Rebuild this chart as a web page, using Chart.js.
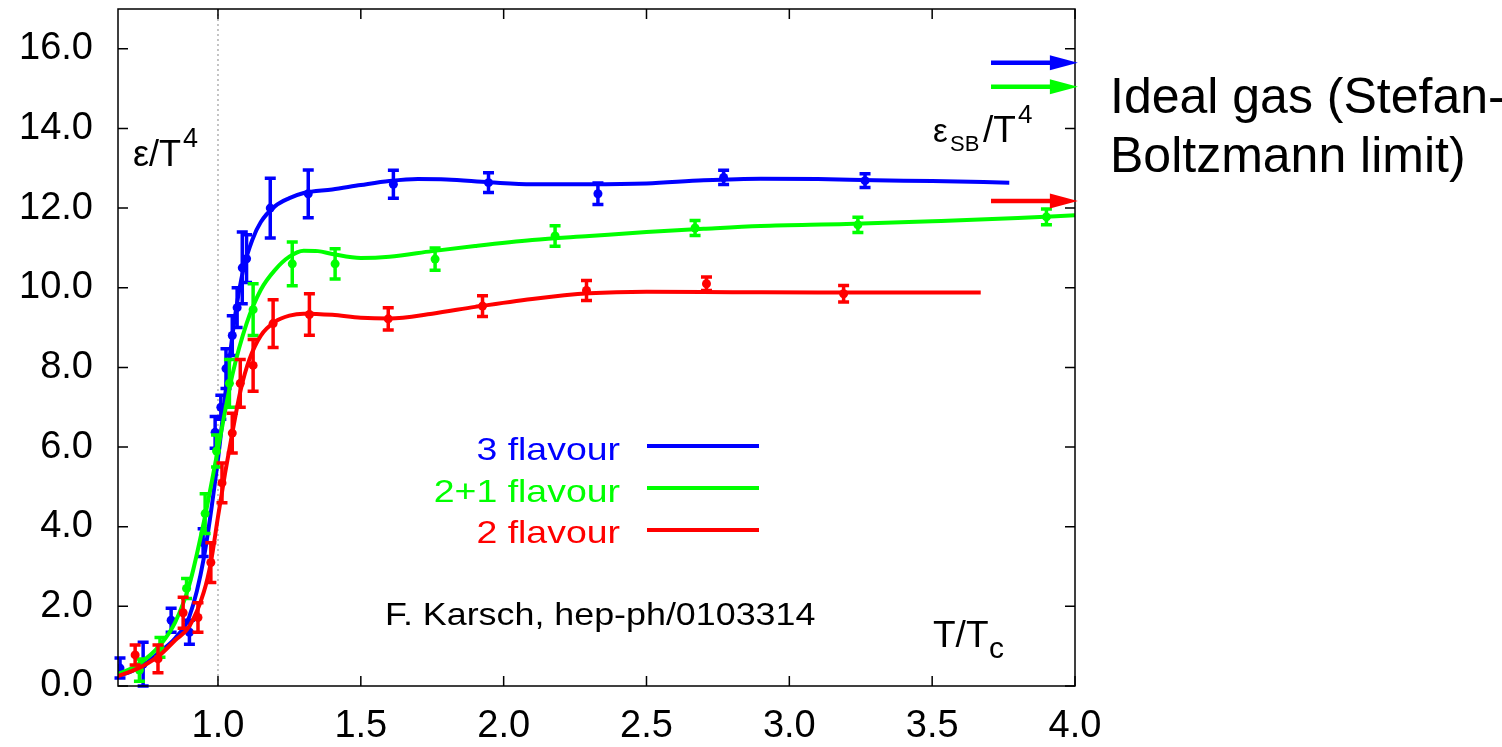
<!DOCTYPE html>
<html><head><meta charset="utf-8">
<script src="https://cdn.jsdelivr.net/npm/chart.js@4"></script>
<style>html,body{margin:0;padding:0;background:#fff}#wrap{width:1502px;height:747px;position:relative}</style>
</head><body><div id="wrap"><canvas id="c"></canvas></div>
<script>
// ---- data ----
const xTicks = [1.0, 1.5, 2.0, 2.5, 3.0, 3.5, 4.0];
const yTicks = [0, 2, 4, 6, 8, 10, 12, 14, 16];

// 3 flavour (blue) lattice points
const blueX   = [0.657, 0.738, 0.836, 0.90, 0.948, 0.99, 1.01, 1.028, 1.05, 1.067, 1.085, 1.10, 1.183, 1.316, 1.614, 1.947, 2.33, 2.77, 3.265];
const blueY   = [0.45, 0.55, 1.65, 1.35, 3.6, 6.37, 7.0, 7.97, 8.8, 9.5, 10.5, 10.73, 12.0, 12.36, 12.6, 12.64, 12.36, 12.77, 12.69];
const blueErr = [0.25, 0.55, 0.3, 0.3, 0.35, 0.4, 0.3, 0.5, 0.5, 0.5, 0.9, 0.6, 0.75, 0.6, 0.35, 0.25, 0.27, 0.18, 0.17];
// 2+1 flavour (green)
const greenX   = [0.725, 0.797, 0.89, 0.955, 0.995, 1.04, 1.123, 1.26, 1.41, 1.76, 2.18, 2.67, 3.24, 3.9];
const greenY   = [0.4, 0.97, 2.45, 4.33, 5.9, 7.6, 9.45, 10.6, 10.6, 10.72, 11.3, 11.5, 11.58, 11.78];
const greenErr = [0.28, 0.25, 0.25, 0.5, 0.4, 0.6, 0.65, 0.55, 0.38, 0.28, 0.26, 0.19, 0.19, 0.2];
// 2 flavour (red)
const redX   = [0.71, 0.79, 0.878, 0.93, 0.975, 1.014, 1.05, 1.078, 1.123, 1.193, 1.32, 1.596, 1.926, 2.29, 2.71, 3.19];
const redY   = [0.78, 0.68, 1.84, 1.72, 3.1, 5.1, 6.35, 7.6, 8.05, 9.1, 9.33, 9.22, 9.54, 9.93, 10.1, 9.85];
const redErr = [0.25, 0.35, 0.39, 0.37, 0.5, 0.5, 0.5, 0.6, 0.65, 0.6, 0.52, 0.28, 0.26, 0.25, 0.17, 0.21];

// fitted curves
const blueCurveX = [0.65,0.70,0.75,0.80,0.85,0.90,0.95,1.00,1.03,1.06,1.09,1.12,1.15,1.20,1.25,1.30,1.40,1.50,1.60,1.70,1.80,1.95,2.10,2.30,2.50,2.70,2.90,3.10,3.30,3.50,3.77];
const blueCurveY = [0.25,0.38,0.58,0.88,1.2,1.75,3.2,5.7,7.6,9.3,10.5,11.2,11.65,12.05,12.25,12.38,12.47,12.58,12.68,12.73,12.72,12.65,12.6,12.6,12.62,12.7,12.74,12.73,12.7,12.68,12.64];
const greenCurveX = [0.65,0.70,0.75,0.80,0.85,0.90,0.95,1.00,1.05,1.10,1.15,1.20,1.25,1.30,1.35,1.40,1.50,1.60,1.75,1.90,2.10,2.30,2.50,2.70,2.90,3.20,3.50,3.80,4.00];
const greenCurveY = [0.3,0.45,0.7,1.05,1.6,2.55,4.1,5.95,7.8,9.1,9.95,10.45,10.78,10.93,10.92,10.85,10.75,10.78,10.92,11.05,11.2,11.3,11.4,11.48,11.55,11.6,11.67,11.75,11.82];
const redCurveX = [0.65,0.70,0.75,0.80,0.85,0.90,0.95,0.975,1.00,1.025,1.05,1.08,1.11,1.15,1.20,1.25,1.30,1.40,1.50,1.60,1.75,1.90,2.10,2.30,2.50,2.80,3.10,3.40,3.67];
const redCurveY = [0.25,0.38,0.55,0.8,1.15,1.5,2.35,3.1,4.25,5.35,6.35,7.45,8.2,8.8,9.15,9.3,9.35,9.32,9.25,9.23,9.35,9.52,9.72,9.86,9.9,9.89,9.88,9.88,9.88];

// Stefan-Boltzmann limits (arrows): 3 flavour, 2+1 flavour, 2 flavour
const sbLimits = [15.65, 15.05, 12.18];
const sbColors = ['#0000ff', '#00ff00', '#ff0000'];
const sbArrowFrom = 3.706, sbArrowTo = 4.01;
const tcLine = 1.0;

const legendLabels = ['3 flavour', '2+1 flavour', '2 flavour'];

const BLUE = '#0000ff', GREEN = '#00ff00', RED = '#ff0000';
const FONT = "'Liberation Sans', Arial, Helvetica, sans-serif";

function pts(xs, ys) { return xs.map((x, i) => ({x: x, y: ys[i]})); }

function curveDs(xs, ys, color) {
  return {type: 'line', data: pts(xs, ys), borderColor: color, borderWidth: 4, pointRadius: 0,
          cubicInterpolationMode: 'monotone', fill: false};
}
function pointDs(xs, ys, err, color) {
  return {type: 'scatter', data: pts(xs, ys), errors: err, backgroundColor: color, borderColor: color,
          pointRadius: 4.5, pointBorderWidth: 0, showLine: false};
}

function txt(ctx, s, x, y, size, color, align, sx) {
  ctx.save();
  ctx.font = size + 'px ' + FONT;
  ctx.fillStyle = color;
  ctx.textAlign = align || 'left';
  ctx.textBaseline = 'alphabetic';
  ctx.translate(x, y);
  ctx.scale(sx || 1, 1);
  ctx.fillText(s, 0, 0);
  ctx.restore();
}

const overlay = {
  id: 'overlay',
  beforeDatasetsDraw(chart) {
    const {ctx, chartArea: a, scales: {x}} = chart;
    const px = x.getPixelForValue(tcLine);
    ctx.save();
    ctx.strokeStyle = '#888';
    ctx.lineWidth = 1;
    ctx.setLineDash([2, 3]);
    ctx.beginPath(); ctx.moveTo(px, a.top); ctx.lineTo(px, a.bottom); ctx.stroke();
    ctx.restore();
  },
  afterDatasetDraw(chart, args) {
    const ds = chart.data.datasets[args.index];
    if (!ds.errors) return;
    const {ctx, scales: {x, y}} = chart;
    ctx.save();
    ctx.strokeStyle = ds.borderColor;
    ctx.lineWidth = 3.5;
    ds.data.forEach((p, i) => {
      const e = ds.errors[i];
      const px = x.getPixelForValue(p.x);
      const y1 = y.getPixelForValue(p.y - e), y2 = y.getPixelForValue(p.y + e);
      ctx.beginPath();
      ctx.moveTo(px, y1); ctx.lineTo(px, y2);
      ctx.moveTo(px - 5.5, y1); ctx.lineTo(px + 5.5, y1);
      ctx.moveTo(px - 5.5, y2); ctx.lineTo(px + 5.5, y2);
      ctx.stroke();
    });
    ctx.restore();
  },
  afterDraw(chart) {
    const {ctx, chartArea: a, scales: {x, y}} = chart;
    ctx.save();
    // frame
    ctx.strokeStyle = '#000';
    ctx.lineWidth = 1.5;
    ctx.strokeRect(a.left, a.top, a.right - a.left, a.bottom - a.top);
    // inward ticks
    ctx.beginPath();
    xTicks.forEach(v => {
      const px = x.getPixelForValue(v);
      ctx.moveTo(px, a.bottom); ctx.lineTo(px, a.bottom - 10);
      ctx.moveTo(px, a.top); ctx.lineTo(px, a.top + 10);
    });
    yTicks.forEach(v => {
      const py = y.getPixelForValue(v);
      ctx.moveTo(a.left, py); ctx.lineTo(a.left + 10, py);
      ctx.moveTo(a.right, py); ctx.lineTo(a.right - 10, py);
    });
    ctx.stroke();
    // Stefan-Boltzmann arrows
    sbLimits.forEach((v, i) => {
      const py = y.getPixelForValue(v);
      const x0 = x.getPixelForValue(sbArrowFrom), x1 = x.getPixelForValue(sbArrowTo);
      ctx.strokeStyle = sbColors[i]; ctx.fillStyle = sbColors[i];
      ctx.lineWidth = 4.5;
      ctx.beginPath(); ctx.moveTo(x0, py); ctx.lineTo(x1 - 24, py); ctx.stroke();
      ctx.beginPath(); ctx.moveTo(x1, py); ctx.lineTo(x1 - 28, py - 7.5); ctx.lineTo(x1 - 28, py + 7.5); ctx.closePath(); ctx.fill();
    });
    // legend
    const legColors = [BLUE, GREEN, RED];
    const legBase = [460, 502, 543];
    const legLineY = [446, 488, 530];
    legendLabels.forEach((s, i) => {
      txt(ctx, s, 620, legBase[i], 32, legColors[i], 'right', 1.17);
      ctx.strokeStyle = legColors[i]; ctx.lineWidth = 4;
      ctx.beginPath(); ctx.moveTo(647, legLineY[i]); ctx.lineTo(759, legLineY[i]); ctx.stroke();
    });
    // annotations
    txt(ctx, 'ε/T', 133, 166, 36, '#000');
    txt(ctx, '4', 183, 147, 27, '#000');
    txt(ctx, 'ε', 933, 142, 33, '#000');
    txt(ctx, 'SB', 950, 151, 22, '#000');
    txt(ctx, '/T', 983, 142, 37, '#000');
    txt(ctx, '4', 1018, 123, 26, '#000');
    txt(ctx, 'T/T', 933, 647, 37, '#000');
    txt(ctx, 'c', 989, 658, 30, '#000');
    txt(ctx, 'F. Karsch, hep-ph/0103314', 385, 625, 32, '#000', 'left', 1.12);
    txt(ctx, 'Ideal gas (Stefan-', 1110, 113, 50, '#000');
    txt(ctx, 'Boltzmann limit)', 1110, 172, 50, '#000');
    ctx.restore();
  }
};

new Chart(document.getElementById('c'), {
  type: 'scatter',
  data: {
    datasets: [
      curveDs(redCurveX, redCurveY, RED),
      pointDs(redX, redY, redErr, RED),
      curveDs(greenCurveX, greenCurveY, GREEN),
      pointDs(greenX, greenY, greenErr, GREEN),
      curveDs(blueCurveX, blueCurveY, BLUE),
      pointDs(blueX, blueY, blueErr, BLUE)
    ]
  },
  options: {
    responsive: true,
    maintainAspectRatio: false,
    animation: false,
    layout: {padding: {left: 0, top: 9, right: 427, bottom: 0}},
    plugins: {legend: {display: false}, tooltip: {enabled: false}},
    scales: {
      x: {
        type: 'linear', min: 0.65, max: 4.0,
        afterBuildTicks: s => { s.ticks = xTicks.map(v => ({value: v})); },
        afterFit: s => { s.height = 61; s.paddingLeft = 0; s.paddingRight = 0; },
        grid: {display: false, drawTicks: false},
        border: {display: false},
        ticks: {callback: v => Number(v).toFixed(1), color: '#000', font: {family: FONT, size: 38},
                padding: 18, maxRotation: 0, autoSkip: false}
      },
      y: {
        type: 'linear', min: 0, max: 17,
        afterBuildTicks: s => { s.ticks = yTicks.map(v => ({value: v})); },
        afterFit: s => { s.width = 118; s.paddingTop = 0; s.paddingBottom = 0; },
        grid: {display: false, drawTicks: false},
        border: {display: false},
        ticks: {callback: v => Number(v).toFixed(1), color: '#000', font: {family: FONT, size: 38},
                padding: 25, autoSkip: false}
      }
    }
  },
  plugins: [overlay]
});
</script>
</body></html>
